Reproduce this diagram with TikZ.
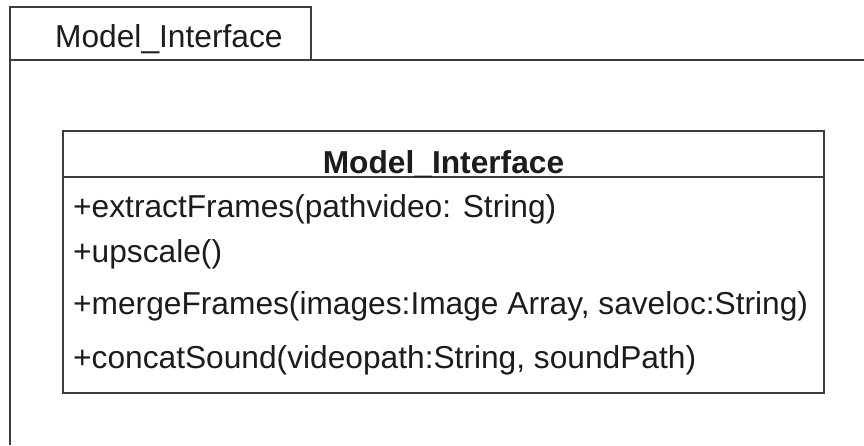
\documentclass[tikz,border=0pt]{standalone}
\usepackage{fontspec}
\setmainfont{Liberation Sans}
\definecolor{linegray}{HTML}{3C3C3C}
\definecolor{textblack}{HTML}{1C1C1C}
\begin{document}
\begin{tikzpicture}[x=1pt,y=-1pt,
  pkgline/.style={draw=linegray, line width=1.8pt},
  classline/.style={draw=linegray, line width=1.8pt},
  umltext/.style={font=\fontsize{31.7}{36}\selectfont, text=textblack, inner sep=0pt},
  umltitle/.style={umltext, font=\fontsize{31.7}{36}\selectfont\bfseries},
  member/.style={umltext, anchor=base west}]
  \useasboundingbox (0,0) rectangle (864,445);
  % package frame: tab and body
  \draw[pkgline] (10,445) -- (10,7) -- (311,7) -- (311,60);
  \draw[pkgline] (10,60) -- (864,60);
  \node[umltext, anchor=base west] (pkgname) at (55,47) {Model\_Interface};
  % class box with its name compartment
  \draw[classline] (63,131) rectangle (824,393);
  \draw[classline] (63,177) -- (824,177);
  \node[umltitle, anchor=base] (clsname) at (443.5,173) {Model\_Interface};
  % operations
  \node[member] (op1) at (73,217) {+extractFrames(pathvideo: String)};
  \node[member] (op2) at (73,262) {+upscale()};
  \node[member] (op3) at (73,314) {+mergeFrames(images:Image Array, saveloc:String)};
  \node[member] (op4) at (73,368) {+concatSound(videopath:String, soundPath)};
\end{tikzpicture}
\end{document}
